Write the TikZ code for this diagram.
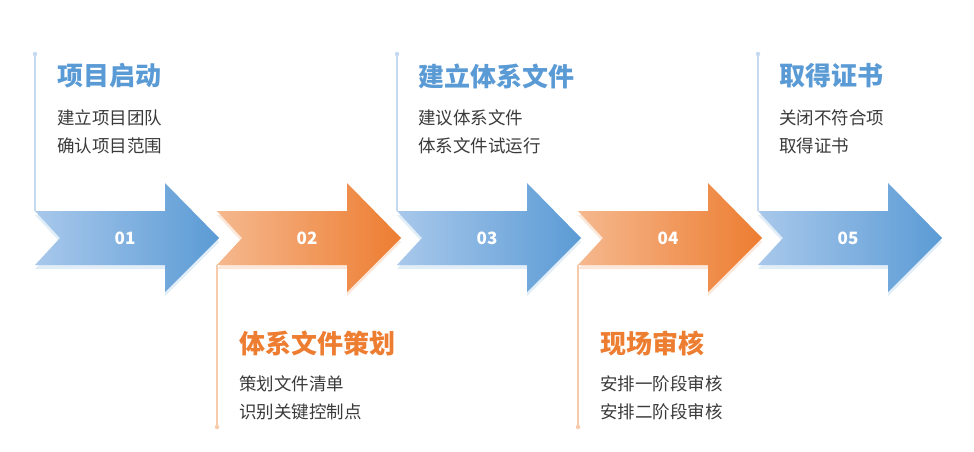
\documentclass[tikz,border=0pt]{standalone}
\usepackage{fontspec}
\setmainfont{Noto Sans CJK SC}
\usetikzlibrary{positioning, shadows}

\definecolor{bluelt}{HTML}{A8C8EB}
\definecolor{bluedk}{HTML}{5B9BD5}
\definecolor{orglt}{HTML}{F5B88E}
\definecolor{orgdk}{HTML}{ED7D31}
\definecolor{bluelin}{HTML}{C5D9F0}
\definecolor{orglin}{HTML}{F8CBAD}
\definecolor{txtgray}{HTML}{3A3A3A}

\begin{document}
\begin{tikzpicture}[
  x=1pt, y=-1pt,
  stage/.style = {drop shadow={shadow xshift=0pt, shadow yshift=-4pt, opacity=0.18, fill=#1}},
  num/.style   = {text=white, font=\bfseries\fontsize{17}{17}\selectfont},
  title/.style = {anchor=west, inner sep=0pt, font=\bfseries\fontsize{26}{26}\selectfont},
  body/.style  = {anchor=west, inner sep=0pt, text=txtgray, font=\fontsize{17.5}{17.5}\selectfont},
  vline/.style = {line width=1.2pt, draw=#1},
  dot/.style   = {circle, fill=#1, inner sep=0pt, minimum size=4.5pt},
]
  \useasboundingbox (0,0) rectangle (974,452);

  % arrows
  \foreach \n/\x/\cl/\cd in {1/35/bluelt/bluedk, 2/217/orglt/orgdk, 3/397/bluelt/bluedk,
                             4/578/orglt/orgdk, 5/758/bluelt/bluedk} {
    \path[stage=\cd, left color=\cl, right color=\cd]
      (\x,211) -- ++(130,0) -- ++(0,-28) -- ++(54,55) -- ++(-54,54)
      -- ++(0,-27) -- ++(-130,0) -- ++(25,-27) -- cycle;
    \coordinate (up\n) at (\x,211);
    \coordinate (lo\n) at (\x,265);
    \node[num] (n\n) at (\x+90,238) {0\n};
  }

  % top stages
  \coordinate (p1) at (35,54);
  \coordinate (p3) at (397,54);
  \coordinate (p5) at (758,54);
  \draw[vline=bluelin] (p1) -- (up1);
  \draw[vline=bluelin] (p3) -- (up3);
  \draw[vline=bluelin] (p5) -- (up5);
  \node[dot=bluelin] at (p1) {};
  \node[dot=bluelin] at (p3) {};
  \node[dot=bluelin] at (p5) {};

  \node[title, text=bluedk] (t1) at (57,76)  {项目启动};
  \node[body] (b1a) at (57,118) {建立项目团队};
  \node[body] (b1b) at (57,146) {确认项目范围};

  \node[title, text=bluedk] (t3) at (418,76) {建立体系文件};
  \node[body] (b3a) at (418,118) {建议体系文件};
  \node[body] (b3b) at (418,146) {体系文件试运行};

  \node[title, text=bluedk] (t5) at (779,76) {取得证书};
  \node[body] (b5a) at (779,118) {关闭不符合项};
  \node[body] (b5b) at (779,146) {取得证书};

  % bottom stages
  \coordinate (p2) at (217,427);
  \coordinate (p4) at (578,427);
  \draw[vline=orglin] (lo2) -- (p2);
  \draw[vline=orglin] (lo4) -- (p4);
  \node[dot=orglin] at (p2) {};
  \node[dot=orglin] at (p4) {};

  \node[title, text=orgdk] (t2) at (239,343) {体系文件策划};
  \node[body] (b2a) at (239,384) {策划文件清单};
  \node[body] (b2b) at (239,412) {识别关键控制点};

  \node[title, text=orgdk] (t4) at (600,343) {现场审核};
  \node[body] (b4a) at (600,384) {安排一阶段审核};
  \node[body] (b4b) at (600,412) {安排二阶段审核};
\end{tikzpicture}
\end{document}
